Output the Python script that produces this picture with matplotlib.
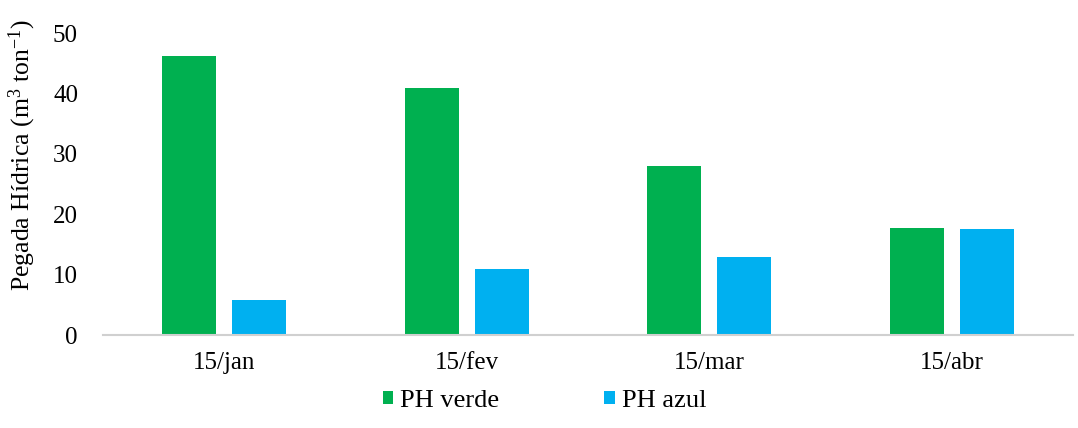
import matplotlib
matplotlib.use("Agg")
import matplotlib.pyplot as plt
from matplotlib.font_manager import FontProperties
import numpy as np

categories = ["15/jan", "15/fev", "15/mar", "15/abr"]
ph_verde = [46.2, 40.9, 27.9, 17.7]
ph_azul = [5.8, 10.9, 12.9, 17.5]
yticks = [0, 10, 20, 30, 40, 50]

plt.rcParams["font.family"] = "serif"
plt.rcParams["font.serif"] = ["Liberation Serif", "DejaVu Serif"]
plt.rcParams["mathtext.fontset"] = "custom"
plt.rcParams["mathtext.rm"] = "Liberation Serif"
plt.rcParams["mathtext.it"] = "Liberation Serif:italic"

fig = plt.figure(figsize=(10.78, 4.28), dpi=100)
ax = fig.add_axes([103 / 1078, 1 - 335 / 428, 970 / 1078, (335 - 33) / 428])

x = np.arange(len(categories))
w = 0.223
off = 0.144
ax.bar(x - off, ph_verde, w, color="#00B050", label="PH verde")
ax.bar(x + off, ph_azul, w, color="#00B0F0", label="PH azul")

ax.set_xlim(-0.5, len(categories) - 0.5)
ax.set_ylim(0, 50)
ax.set_yticks(yticks)
ax.set_xticks(x)
ax.set_xticklabels(categories)
ax.tick_params(axis="both", length=0, labelsize=18)
ax.tick_params(axis="y", pad=18)
ax.tick_params(axis="x", pad=12)

for s in ["top", "right", "left"]:
    ax.spines[s].set_visible(False)
ax.spines["bottom"].set_color("#d0d0d0")
ax.spines["bottom"].set_linewidth(1.5)

fig.text(22 / 1078, 1 - 155 / 428, "Pegada Hídrica (m$^{3}$ ton$^{-1}$)",
         rotation=90, ha="center", va="center", fontsize=18.5)

leg_font = FontProperties(family="serif", size=19)
fig.legend(loc="center", bbox_to_anchor=(0.505, 1 - 401 / 428), ncol=2,
           frameon=False, prop=leg_font, handlelength=0.4, handleheight=0.4,
           handletextpad=0.25, columnspacing=4.0)

fig.savefig("out.png", dpi=100)
